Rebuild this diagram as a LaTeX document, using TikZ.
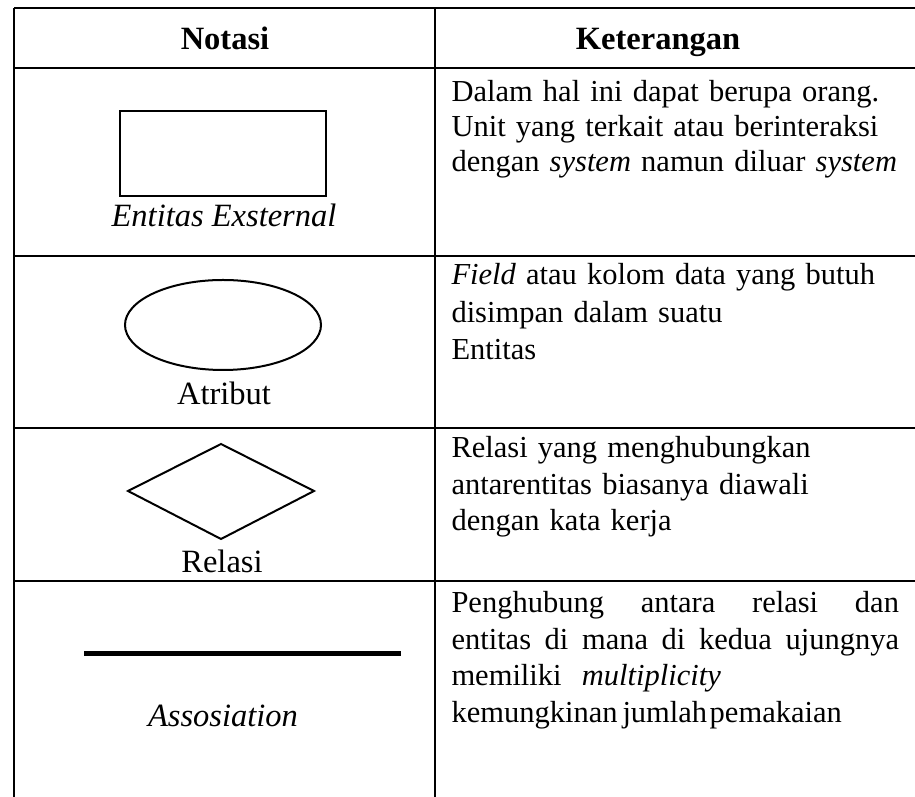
\documentclass[tikz,border=0pt]{standalone}
\usepackage{fontspec}
\setmainfont{Liberation Serif}
\begin{document}
\begin{tikzpicture}[x=0.4pt,y=-0.4pt,
    rule/.style={line width=1pt},
    notation/.style={line width=0.8pt},
    head/.style={anchor=base, inner sep=0pt, font=\fontsize{13}{14}\selectfont\bfseries},
    caption/.style={anchor=base, inner sep=0pt, font=\fontsize{13}{14}\selectfont},
    desc/.style={anchor=base west, inner sep=0pt,
      text width=190pt, font=\fontsize{12.2}{14.6}\selectfont}]
  \useasboundingbox (0,0) rectangle (915,797) ;
  % table rules
  \draw[rule] (14,8) -- (915,8) ;
  \draw[rule] (14,68) -- (915,68) ;
  \draw[rule] (14,256) -- (915,256) ;
  \draw[rule] (14,428) -- (915,428) ;
  \draw[rule] (14,581) -- (915,581) ;
  \draw[rule] (14,8) -- (14,797) ;
  \draw[rule] (435,8) -- (435,797) ;
  % header
  \node[head] (notasi) at (225,50) {Notasi} ;
  \node[head] (ket) at (658,50) {Keterangan} ;
  % entitas eksternal
  \draw[notation] (120,111) rectangle (326,196) ;
  \node[caption] (entcap) at (224,227) {\itshape Entitas Exsternal} ;
  \node[desc, font=\fontsize{12.2}{14}\selectfont] (entdesc) at (451,102)
    {Dalam hal ini dapat berupa orang.\\
     Unit yang terkait atau berinteraksi\\
     dengan \textit{system} namun diluar \textit{system}} ;
  % atribut
  \draw[notation] (223,325) ellipse (98 and 45) ;
  \node[caption] (atrcap) at (224,405) {Atribut} ;
  \node[desc, font=\fontsize{12.2}{15}\selectfont] (atrdesc) at (451,285)
    {\textit{Field} atau kolom data yang butuh\\
     disimpan dalam suatu\\
     Entitas} ;
  % relasi
  \draw[notation] (221,444) -- (314,491) -- (221,539) -- (128,491) -- cycle ;
  \node[caption] (relcap) at (222,573) {Relasi} ;
  \node[desc] (reldesc) at (451,458)
    {Relasi yang menghubungkan\\
     antarentitas biasanya diawali\\
     dengan kata kerja} ;
  % assosiation
  \draw[line width=2pt] (84,654) -- (401,654) ;
  \node[caption] (asscap) at (223,727) {\itshape Assosiation} ;
  \node[desc] (assdesc) at (451,613)
    {\makebox[179pt]{Penghubung\hfill antara\hfill relasi\hfill dan}\\
     \makebox[179pt]{entitas\hfill di\hfill mana\hfill di\hfill kedua\hfill ujungnya}\\
     memiliki\ \ \textit{multiplicity}\\
     kemungkinan\kern2pt jumlah\kern1pt pemakaian} ;
\end{tikzpicture}
\end{document}
